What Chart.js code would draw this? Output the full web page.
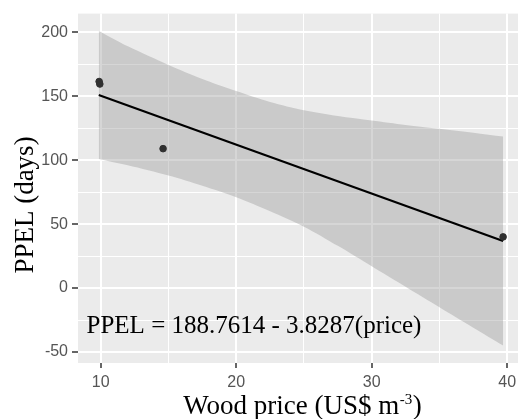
<!DOCTYPE html>
<html lang="en">
<head>
    <meta charset="UTF-8">
    <title>PPEL vs wood price</title>
    <script src="https://cdn.jsdelivr.net/npm/chart.js"></script>
    <style>
        html, body {
            margin: 0;
            padding: 0;
            background: #ffffff;
            overflow: hidden;
        }
        #wrap {
            width: 523px;
            height: 419px;
        }
    </style>
</head>
<body>
    <div id="wrap"><canvas id="fitChart" width="523" height="419"></canvas></div>

    <script>
        // observed points
        const pointX = [9.88, 9.93, 14.6, 39.7];
        const pointY = [161.5, 159.5, 109, 40];

        // fitted line
        const lineX = [9.85, 39.7];
        const lineY = [151, 36.8];

        // confidence band
        const bandX = [9.85, 12, 15, 17.5, 20, 22.5, 25, 27.5, 30, 32.5, 35, 37.5, 39.7];
        const bandUpper = [201, 189, 174.5, 163.5, 154, 145.5, 139, 134.5, 131, 127.5, 124.5, 121.5, 118.5];
        const bandLower = [101, 96, 88, 80, 71, 60, 48, 33, 17, 1, -15, -31, -45];

        const xTicks = [10, 15, 20, 25, 30, 35, 40];
        const yTicks = [-50, -25, 0, 25, 50, 75, 100, 125, 150, 175, 200];

        const equationText = 'PPEL = 188.7614 - 3.8287(price)';
        const yTitle = 'PPEL (days)';

        function toXY(xs, ys) {
            return xs.map((x, i) => ({ x: x, y: ys[i] }));
        }

        const serif = '"Liberation Serif", "Times New Roman", serif';

        const panelBg = {
            id: 'panelBg',
            beforeDraw(chart) {
                const { ctx, chartArea: a } = chart;
                ctx.save();
                ctx.fillStyle = '#ebebeb';
                ctx.fillRect(a.left, a.top, a.right - a.left, a.bottom - a.top);
                ctx.restore();
            },
            afterDraw(chart) {
                const ctx = chart.ctx;
                const xs = chart.scales.x, ys = chart.scales.y;
                ctx.save();
                ctx.fillStyle = '#000';
                ctx.textBaseline = 'alphabetic';

                // equation inside panel
                ctx.font = '25px ' + serif;
                ctx.textAlign = 'left';
                ctx.fillText(equationText, xs.getPixelForValue(8.95), ys.getPixelForValue(-35.5));

                // y axis title
                ctx.save();
                ctx.translate(32.5, 205);
                ctx.rotate(-Math.PI / 2);
                ctx.font = '27px ' + serif;
                ctx.textAlign = 'center';
                ctx.fillText(yTitle, 0, 0);
                ctx.restore();

                // x axis title with superscript
                const main = 'Wood price (US$ m';
                const sup = '-3';
                const tail = ')';
                const f1 = '27px ' + serif;
                const f2 = '15px ' + serif;
                ctx.textAlign = 'left';
                ctx.font = f1;
                const w1 = ctx.measureText(main).width;
                const w3 = ctx.measureText(tail).width;
                ctx.font = f2;
                const w2 = ctx.measureText(sup).width;
                const total = w1 + w2 + w3;
                const x0 = 302 - total / 2;
                const base = 414;
                ctx.font = f1;
                ctx.fillText(main, x0, base);
                ctx.font = f2;
                ctx.fillText(sup, x0 + w1 + 0.5, base - 10);
                ctx.font = f1;
                ctx.fillText(tail, x0 + w1 + w2 + 1, base);
                ctx.restore();
            }
        };

        const ctx = document.getElementById('fitChart').getContext('2d');
        new Chart(ctx, {
            type: 'scatter',
            data: {
                datasets: [
                    {
                        label: 'points',
                        data: toXY(pointX, pointY),
                        backgroundColor: '#303030',
                        borderColor: '#303030',
                        pointRadius: 3.3,
                        order: 0
                    },
                    {
                        label: 'fit',
                        type: 'line',
                        data: toXY(lineX, lineY),
                        borderColor: '#000000',
                        borderWidth: 2.2,
                        pointRadius: 0,
                        fill: false,
                        order: 1
                    },
                    {
                        label: 'upper',
                        type: 'line',
                        data: toXY(bandX, bandUpper),
                        borderWidth: 0,
                        borderColor: 'rgba(0,0,0,0)',
                        backgroundColor: 'rgba(153,153,153,0.4)',
                        pointRadius: 0,
                        tension: 0.3,
                        fill: '+1',
                        order: 2
                    },
                    {
                        label: 'lower',
                        type: 'line',
                        data: toXY(bandX, bandLower),
                        borderWidth: 0,
                        borderColor: 'rgba(0,0,0,0)',
                        pointRadius: 0,
                        tension: 0.3,
                        fill: false,
                        order: 3
                    }
                ]
            },
            options: {
                responsive: false,
                animation: false,
                layout: { padding: { top: 13, right: 0, left: 0, bottom: 0 } },
                plugins: {
                    legend: { display: false },
                    tooltip: { enabled: false }
                },
                scales: {
                    x: {
                        type: 'linear',
                        min: 8.32,
                        max: 40.8,
                        afterBuildTicks: s => { s.ticks = xTicks.map(v => ({ value: v })); },
                        afterFit: s => { s.height = 56; },
                        border: { display: false },
                        grid: {
                            color: '#ffffff',
                            lineWidth: c => (c.tick && c.tick.value % 10 === 0) ? 2 : 1,
                            drawTicks: true,
                            tickLength: 5,
                            tickWidth: 1.5,
                            tickColor: c => (c.tick && c.tick.value % 10 === 0) ? '#333333' : 'rgba(0,0,0,0)'
                        },
                        ticks: {
                            color: '#555555',
                            padding: 5,
                            font: { family: '"Liberation Sans", Arial, sans-serif', size: 16 },
                            callback: v => (v % 10 === 0 ? String(v) : '')
                        }
                    },
                    y: {
                        type: 'linear',
                        min: -58.6,
                        max: 214.6,
                        afterBuildTicks: s => { s.ticks = yTicks.map(v => ({ value: v })); },
                        afterFit: s => { s.width = 78; },
                        border: { display: false },
                        grid: {
                            color: '#ffffff',
                            lineWidth: c => (c.tick && c.tick.value % 50 === 0) ? 2 : 1,
                            drawTicks: true,
                            tickLength: 6,
                            tickWidth: 1.5,
                            tickColor: c => (c.tick && c.tick.value % 50 === 0) ? '#333333' : 'rgba(0,0,0,0)'
                        },
                        ticks: {
                            color: '#555555',
                            padding: 4,
                            font: { family: '"Liberation Sans", Arial, sans-serif', size: 16 },
                            callback: v => (v % 50 === 0 ? String(v) : '')
                        }
                    }
                }
            },
            plugins: [panelBg]
        });
    </script>
</body>
</html>
